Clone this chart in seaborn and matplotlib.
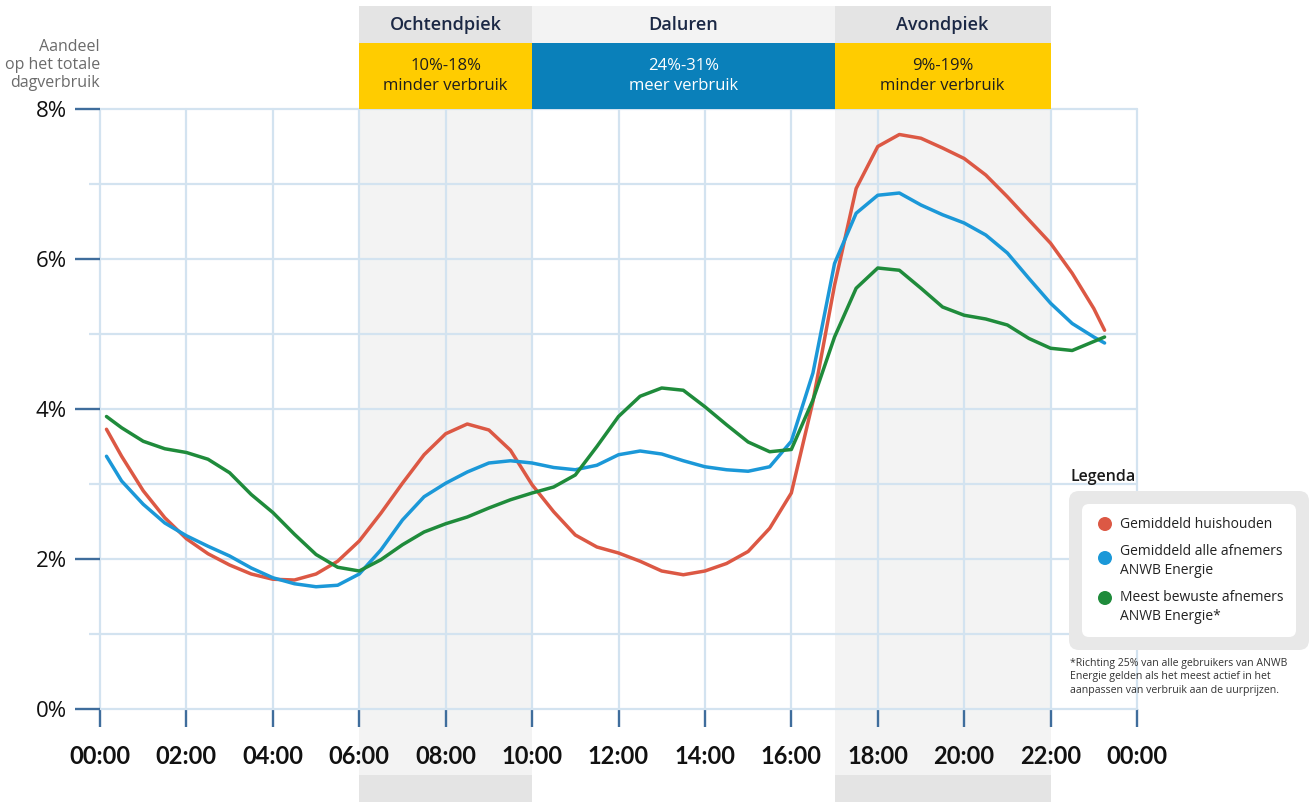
import numpy as np
import pandas as pd
import seaborn as sns
import matplotlib
matplotlib.use("Agg")
import matplotlib.pyplot as plt
from matplotlib.patches import Rectangle, FancyBboxPatch, Circle
from matplotlib.transforms import blended_transform_factory

# ---------------- data ----------------
hours = [0.15] + [0.5 * i for i in range(1, 47)] + [23.25]

huishouden = [3.73, 3.37, 2.91, 2.55, 2.27, 2.07, 1.92, 1.80, 1.73, 1.72, 1.80, 1.97,
              2.24, 2.61, 3.01, 3.39, 3.67, 3.80, 3.72, 3.45, 2.99, 2.63, 2.32, 2.16,
              2.08, 1.97, 1.84, 1.79, 1.84, 1.94, 2.10, 2.41, 2.88, 4.10, 5.65, 6.94,
              7.50, 7.66, 7.61, 7.48, 7.34, 7.12, 6.83, 6.52, 6.21, 5.81, 5.34, 5.05]
alle_afnemers = [3.37, 3.04, 2.73, 2.48, 2.31, 2.17, 2.04, 1.88, 1.75, 1.67, 1.63, 1.65,
                 1.80, 2.12, 2.52, 2.83, 3.01, 3.16, 3.28, 3.31, 3.28, 3.22, 3.19, 3.25,
                 3.39, 3.44, 3.40, 3.31, 3.23, 3.19, 3.17, 3.23, 3.57, 4.48, 5.94, 6.61,
                 6.85, 6.88, 6.72, 6.59, 6.48, 6.32, 6.08, 5.74, 5.41, 5.14, 4.96, 4.88]
bewuste_afnemers = [3.90, 3.75, 3.57, 3.47, 3.42, 3.33, 3.15, 2.86, 2.62, 2.33, 2.06, 1.89,
                    1.84, 1.99, 2.19, 2.36, 2.47, 2.56, 2.68, 2.79, 2.88, 2.96, 3.12, 3.50,
                    3.90, 4.17, 4.28, 4.25, 4.03, 3.79, 3.56, 3.43, 3.46, 4.12, 4.96, 5.61,
                    5.88, 5.85, 5.61, 5.36, 5.25, 5.20, 5.12, 4.94, 4.81, 4.78, 4.90, 4.96]

series_names = ["Gemiddeld huishouden", "Gemiddeld alle afnemers\nANWB Energie",
                "Meest bewuste afnemers\nANWB Energie*"]
series_colors = ["#dc5844", "#1b98d8", "#1f8b3b"]

x_ticks = list(range(0, 25, 2))
x_labels = ["00:00", "02:00", "04:00", "06:00", "08:00", "10:00", "12:00",
            "14:00", "16:00", "18:00", "20:00", "22:00", "00:00"]
y_ticks = [0, 2, 4, 6, 8]
y_labels = ["0%", "2%", "4%", "6%", "8%"]

period_names = ["Ochtendpiek", "Daluren", "Avondpiek"]
period_start = [6, 10, 17]
period_end = [10, 17, 22]
period_text = ["10%-18%\nminder verbruik", "24%-31%\nmeer verbruik", "9%-19%\nminder verbruik"]
period_color = ["#ffcc00", "#0a80ba", "#ffcc00"]
period_textcolor = ["#1e1e1e", "#ffffff", "#1e1e1e"]
period_headcolor = ["#e4e4e4", "#f3f3f3", "#e4e4e4"]
shaded = [True, False, True]

y_title = "Aandeel\nop het totale\ndagverbruik"
footnote = ("*Richting 25% van alle gebruikers van ANWB\n"
            "Energie gelden als het meest actief in het\n"
            "aanpassen van verbruik aan de uurprijzen.")

# ---------------- style ----------------
sns.set_theme(style="white")
plt.rcParams["font.family"] = ["Open Sans", "DejaVu Sans"]

GRID = "#d3e3f0"
DARK = "#3f6d9c"
W, H = 1314, 802
fig = plt.figure(figsize=(W / 100, H / 100), dpi=100)
fig.patch.set_facecolor("white")
ax = fig.add_axes([100 / W, (H - 709) / H, 1037 / W, 600 / H])
ax.patch.set_alpha(0)


def ypx(y):
    return (H - y) / 100.0


pxT = fig.dpi_scale_trans
bt = blended_transform_factory(ax.transData, pxT)

# shaded periods and header
for name, s, e, txt, col, tcol, hcol, sh in zip(period_names, period_start, period_end,
                                               period_text, period_color, period_textcolor,
                                               period_headcolor, shaded):
    if sh:
        ax.add_patch(Rectangle((s, ypx(775)), e - s, ypx(109) - ypx(775), transform=bt,
                               facecolor="#f3f3f3", edgecolor="none", zorder=0, clip_on=False))
        ax.add_patch(Rectangle((s, ypx(802)), e - s, ypx(775) - ypx(802), transform=bt,
                               facecolor="#e4e4e4", edgecolor="none", zorder=0, clip_on=False))
    ax.add_patch(Rectangle((s, ypx(43)), e - s, ypx(6) - ypx(43), transform=bt,
                           facecolor=hcol, edgecolor="none", zorder=0, clip_on=False))
    ax.add_patch(Rectangle((s, ypx(109)), e - s, ypx(43) - ypx(109), transform=bt,
                           facecolor=col, edgecolor="none", zorder=1, clip_on=False))
    ax.text((s + e) / 2, ypx(25), name, transform=bt, ha="center", va="center",
            fontsize=13, color="#1b2845", fontweight="semibold", clip_on=False)
    ax.text((s + e) / 2, ypx(76), txt, transform=bt, ha="center", va="center",
            fontsize=12, color=tcol, linespacing=1.25, clip_on=False)

# lines
df = pd.DataFrame({
    "uur": hours * 3,
    "aandeel": huishouden + alle_afnemers + bewuste_afnemers,
    "reeks": [series_names[0]] * len(hours) + [series_names[1]] * len(hours)
             + [series_names[2]] * len(hours),
})
sns.lineplot(data=df, x="uur", y="aandeel", hue="reeks", hue_order=series_names,
             palette=series_colors, linewidth=2.5, legend=False, estimator=None,
             errorbar=None, ax=ax, zorder=5)
for ln in ax.get_lines():
    ln.set_solid_joinstyle("round")
    ln.set_solid_capstyle("round")

ax.set_xlim(0, 24)
ax.set_ylim(0, 8)
ax.set_xlabel("")
ax.set_ylabel("")
for sp in ax.spines.values():
    sp.set_visible(False)

ax.set_xticks(x_ticks)
ax.set_xticklabels(x_labels)
ax.set_yticks(y_ticks)
ax.set_yticklabels(y_labels)
ax.set_yticks([1, 3, 5, 7], minor=True)
ax.tick_params(axis="x", which="major", direction="out", length=13, width=1.7,
               color=DARK, pad=13, labelsize=17, labelcolor="#111111", bottom=True)
ax.tick_params(axis="y", which="major", direction="out", length=18, width=1.7,
               color=DARK, pad=6, labelsize=16, labelcolor="#111111", left=True)
ax.tick_params(axis="y", which="minor", direction="out", length=8, width=1.6,
               color=GRID, left=True)
for lbl in ax.get_xticklabels():
    lbl.set_fontfamily(["Lato", "DejaVu Sans"])
    lbl.set_fontweight("bold")
ax.set_axisbelow(True)
ax.grid(True, which="major", axis="x", color=GRID, linewidth=1.6)
ax.grid(True, which="both", axis="y", color=GRID, linewidth=1.6)
for gl in ax.get_xgridlines() + ax.get_ygridlines():
    gl.set_clip_on(False)

# y title
fig.text(1.0, ypx(65), y_title, transform=pxT, ha="right", va="center",
         fontsize=11.5, color="#6b6b6b", linespacing=1.15)

# legend
fig.text(10.70, ypx(477), "Legenda", transform=pxT, ha="left", va="center",
         fontsize=11.5, color="#1a1a1a", fontweight="semibold")
fig.add_artist(FancyBboxPatch((10.69, ypx(650)), 2.40, 1.59, transform=pxT,
                              boxstyle="round,pad=0,rounding_size=0.1",
                              facecolor="#e8e8e8", edgecolor="none"))
fig.add_artist(FancyBboxPatch((10.82, ypx(637)), 2.14, 1.33, transform=pxT,
                              boxstyle="round,pad=0,rounding_size=0.07",
                              facecolor="white", edgecolor="none"))
leg_y = [524, 558, 598]
txt_y = [524, 561, 607]
for name, col, my, ty in zip(series_names, series_colors, leg_y, txt_y):
    fig.add_artist(Circle((11.05, ypx(my)), 0.07, transform=pxT,
                          facecolor=col, edgecolor="none"))
    fig.text(11.20, ypx(ty), name, transform=pxT, ha="left", va="center",
             fontsize=10, color="#222222", linespacing=1.35)

fig.text(10.70, ypx(677), footnote, transform=pxT, ha="left", va="center",
         fontsize=7.6, color="#333333", linespacing=1.3)

fig.savefig("out.png", dpi=100)
